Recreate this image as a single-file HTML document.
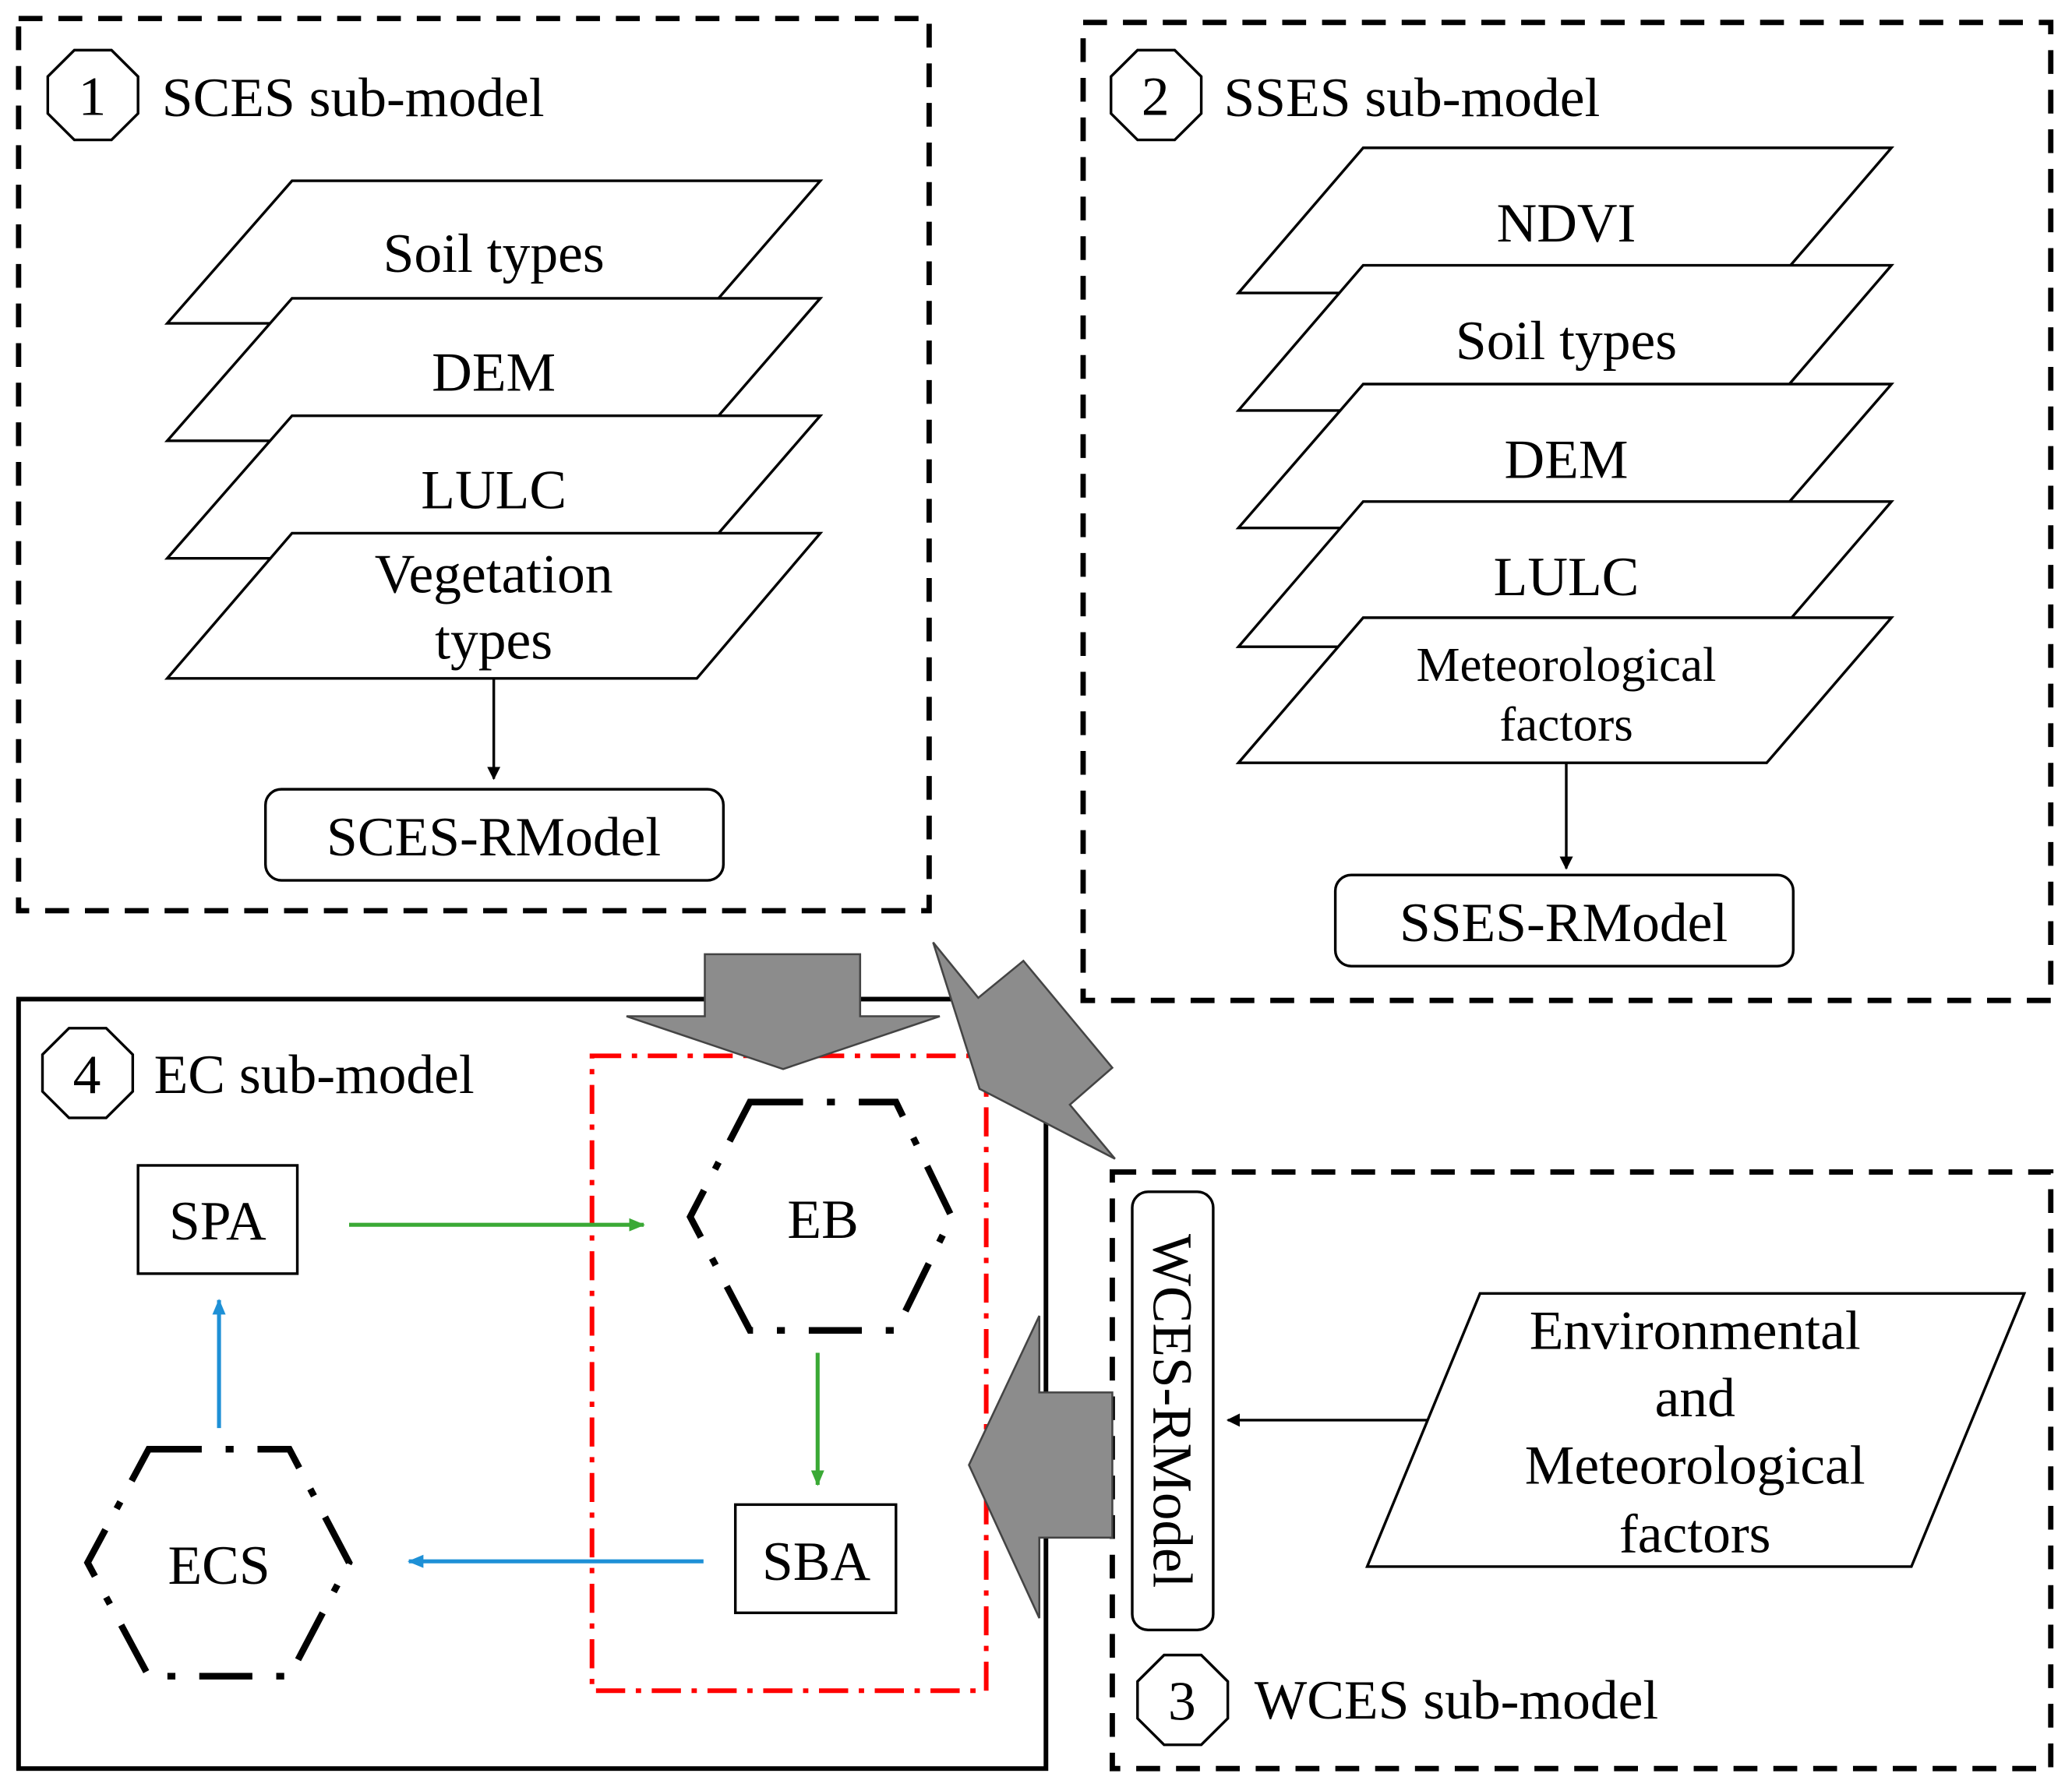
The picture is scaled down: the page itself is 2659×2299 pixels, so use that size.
<!DOCTYPE html>
<html><head><meta charset="utf-8"><style>html,body{margin:0;padding:0;background:#fff}svg{display:block}</style></head>
<body>
<svg width="2659" height="2299" viewBox="0 0 1561 1357" preserveAspectRatio="none" xmlns="http://www.w3.org/2000/svg" font-family="Liberation Serif, serif" font-size="42">
<defs>
<marker id="ab" markerWidth="10" markerHeight="10" refX="9" refY="5" orient="auto" markerUnits="userSpaceOnUse"><path d="M0,0 L10,5 L0,10 Z" fill="#000"/></marker>
<marker id="ag" markerWidth="12" markerHeight="10" refX="11" refY="5" orient="auto" markerUnits="userSpaceOnUse"><path d="M0,0 L12,5 L0,10 Z" fill="#3aa935"/></marker>
<marker id="abl" markerWidth="12" markerHeight="10" refX="11" refY="5" orient="auto" markerUnits="userSpaceOnUse"><path d="M0,0 L12,5 L0,10 Z" fill="#1e90d6"/></marker>
</defs>
<g fill="none" stroke="#000" stroke-width="4" stroke-dasharray="18,12">
<rect x="14" y="14" width="686" height="676"/>
<rect x="816" y="17" width="729" height="741"/>
<rect x="838" y="888" width="707" height="452"/>
</g>
<rect x="14" y="757" width="774" height="583" fill="none" stroke="#000" stroke-width="3.5"/>
<rect x="446" y="800" width="297" height="481" fill="none" stroke="#f00" stroke-width="3.5" stroke-dasharray="22,8,4,8"/>
<g fill="#fff" stroke="#000" stroke-width="2">
<polygon points="56,38 84,38 104,58 104,86 84,106 56,106 36,86 36,58"/>
<polygon points="857,38 885,38 905,58 905,86 885,106 857,106 837,86 837,58"/>
<polygon points="52,779 80,779 100,799 100,827 80,847 52,847 32,827 32,799"/>
<polygon points="877,1254 905,1254 925,1274 925,1302 905,1322 877,1322 857,1302 857,1274"/>
</g>
<text x="59" y="87">1</text><text x="122" y="88">SCES sub-model</text>
<text x="860" y="87">2</text><text x="922" y="88">SSES sub-model</text>
<text x="55" y="828">4</text><text x="116" y="828">EC sub-model</text>
<text x="880" y="1303">3</text><text x="945" y="1302">WCES sub-model</text>
<g fill="#fff" stroke="#000" stroke-width="2">
<polygon points="220,137 618,137 525,245 126,245"/>
<polygon points="220,226 618,226 525,334 126,334"/>
<polygon points="220,315 618,315 525,423 126,423"/>
<polygon points="220,404 618,404 525,514 126,514"/>
</g>
<g text-anchor="middle">
<text x="372" y="206">Soil types</text>
<text x="372" y="296">DEM</text>
<text x="372" y="385">LULC</text>
<text x="372" y="449">Vegetation</text>
<text x="372" y="499">types</text>
</g>
<line x1="372" y1="514" x2="372" y2="590" stroke="#000" stroke-width="2" marker-end="url(#ab)"/>
<rect x="200" y="598" width="345" height="69" rx="12" fill="#fff" stroke="#000" stroke-width="2"/>
<text x="372" y="648" text-anchor="middle">SCES-RModel</text>
<g fill="#fff" stroke="#000" stroke-width="2">
<polygon points="1027,112 1425,112 1331,222 933,222"/>
<polygon points="1027,201 1425,201 1331,311 933,311"/>
<polygon points="1027,291 1425,291 1331,400 933,400"/>
<polygon points="1027,380 1425,380 1331,490 933,490"/>
<polygon points="1027,468 1425,468 1331,578 933,578"/>
</g>
<g text-anchor="middle">
<text x="1180" y="183">NDVI</text>
<text x="1180" y="272">Soil types</text>
<text x="1180" y="362">DEM</text>
<text x="1180" y="451">LULC</text>
<text x="1180" y="516" font-size="37">Meteorological</text>
<text x="1180" y="561" font-size="37">factors</text>
</g>
<line x1="1180" y1="578" x2="1180" y2="658" stroke="#000" stroke-width="2" marker-end="url(#ab)"/>
<rect x="1006" y="663" width="345" height="69" rx="12" fill="#fff" stroke="#000" stroke-width="2"/>
<text x="1178" y="713" text-anchor="middle">SSES-RModel</text>
<rect x="853" y="903" width="61" height="332" rx="12" fill="#fff" stroke="#000" stroke-width="2"/>
<text transform="translate(869,1069) rotate(90)" text-anchor="middle">WCES-RModel</text>
<line x1="1080" y1="1076" x2="925" y2="1076" stroke="#000" stroke-width="2" marker-end="url(#ab)"/>
<polygon points="1115,980 1525,980 1440,1187 1030,1187" fill="#fff" stroke="#000" stroke-width="2"/>
<g text-anchor="middle">
<text x="1277" y="1022">Environmental</text>
<text x="1277" y="1073">and</text>
<text x="1277" y="1124">Meteorological</text>
<text x="1277" y="1176">factors</text>
</g>
<polygon points="565,835 675,835 717,922 675,1008 565,1008 520,922" fill="none" stroke="#000" stroke-width="5" stroke-dasharray="40,18,6,18"/>
<text x="620" y="938" text-anchor="middle">EB</text>
<polygon points="112,1098 218,1098 263,1184 218,1270 112,1270 66,1184" fill="none" stroke="#000" stroke-width="5" stroke-dasharray="40,18,6,18"/>
<text x="165" y="1200" text-anchor="middle">ECS</text>
<rect x="104" y="883" width="120" height="82" fill="#fff" stroke="#000" stroke-width="2"/>
<text x="164" y="939" text-anchor="middle">SPA</text>
<rect x="554" y="1140" width="121" height="82" fill="#fff" stroke="#000" stroke-width="2"/>
<text x="615" y="1197" text-anchor="middle">SBA</text>
<line x1="263" y1="928" x2="485" y2="928" stroke="#3aa935" stroke-width="3" marker-end="url(#ag)"/>
<line x1="616" y1="1025" x2="616" y2="1125" stroke="#3aa935" stroke-width="3" marker-end="url(#ag)"/>
<line x1="530" y1="1183" x2="308" y2="1183" stroke="#1e90d6" stroke-width="3" marker-end="url(#abl)"/>
<line x1="165" y1="1082" x2="165" y2="985" stroke="#1e90d6" stroke-width="3" marker-end="url(#abl)"/>
<g fill="#8c8c8c" stroke="#444" stroke-width="1.5">
<polygon points="531,723 648,723 648,770 708,770 590,810 472,770 531,770"/>
<polygon points="703,714 737,756 771,728 838,809 806,837 840,878 738,825"/>
<polygon points="838,1055 783,1055 783,997 730,1110 783,1226 783,1165 838,1165"/>
</g>
</svg>
</body></html>
